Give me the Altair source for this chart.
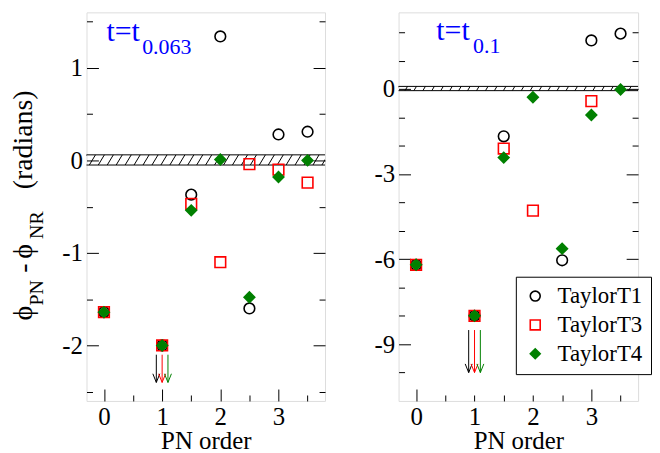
import altair as alt
import numpy as np
import pandas as pd

FONT = "Liberation Serif, Times New Roman, Times, DejaVu Serif, serif"

# ---------------- data ----------------
series = ["TaylorT1", "TaylorT3", "TaylorT4"]
stroke_colors = ["black", "red", "green"]
fill_colors = ["transparent", "transparent", "green"]
shapes = ["circle", "square", "diamond"]

pn_order = [0, 1, 1.5, 2, 2.5, 3, 3.5]

# left panel: t = t_0.063
left_T1 = [-1.64, -2.0, -0.37, 1.34, -1.60, 0.28, 0.31]
left_T3 = [-1.64, -2.0, -0.47, -1.10, -0.04, -0.10, -0.24]
left_T4 = [-1.64, -2.0, -0.54, 0.01, -1.48, -0.18, 0.00]

# right panel: t = t_0.1 (None = off scale)
right_T1 = [-6.2, -8.0, -1.67, None, -6.04, 1.71, 1.95]
right_T3 = [-6.2, -8.0, -2.10, -4.29, None, -0.43, None]
right_T4 = [-6.2, -8.0, -2.42, -0.29, -5.63, -0.92, -0.02]

left_band = [-0.05, 0.06]
right_band = [-0.06, 0.09]

arrow_x = [0.9, 1.0, 1.1]
left_arrow = [-2.1, -2.4]
right_arrow = [-8.5, -10.0]

x_domain = [-0.3, 3.8]
left_y_domain = [-2.6, 1.6]
right_y_domain = [-11.0, 2.7]
x_labels = [0, 1, 2, 3]
x_ticks = [0, 0.5, 1, 1.5, 2, 2.5, 3, 3.5]
left_y_labels = [-2, -1, 0, 1]
left_y_ticks = [-2.5, -2, -1.5, -1, -0.5, 0, 0.5, 1, 1.5]
right_y_labels = [-9, -6, -3, 0]
right_y_ticks = [-10, -9, -8, -7, -6, -5, -4, -3, -2, -1, 0, 1, 2]

left_label = ["t=t", "0.063"]
right_label = ["t=t", "0.1"]

ytitle_text = ["\u03d5", "PN", "-", "\u03d5", "NR", "(radians)"]
ytitle_px = [-55, -44, -55, -55, -44, -55]
ytitle_py = [310, 295, 262, 248, 228, 178]
ytitle_fs = [28, 20, 28, 28, 20, 28]

W_L, W_R, H = 240, 241, 391


def panel(T1, T3, T4, ydom, ylabels, yticks, major_test, band, arrow, label, width, legend, ytitle):
    xs = alt.Scale(domain=x_domain, nice=False, zero=False)
    ys = alt.Scale(domain=ydom, nice=False, zero=False)

    rows = []
    k = 0
    for s, vals in zip(series, [T1, T3, T4]):
        for o, v in zip(pn_order, vals):
            if v is not None:
                rows.append({"series": s, "order": o, "value": v, "idx": k})
                k += 1
    df = pd.DataFrame(rows)

    # hatch segments across the band
    lo, hi = band
    px_per_x = width / (x_domain[1] - x_domain[0])
    spacing = 9.0 / px_per_x
    slant = (hi - lo) / (ydom[1] - ydom[0]) * H * 0.6 / px_per_x
    x0 = np.arange(x_domain[0] - slant, x_domain[1], spacing)
    hatch = pd.DataFrame({"x": x0, "x2": x0 + slant, "y": lo, "y2": hi})
    edges = pd.DataFrame({"v": band})

    arr = pd.DataFrame({"x": arrow_x, "top": arrow[0], "tip": arrow[1], "series": series})

    tick_size = {"condition": {"test": major_test, "value": 12}, "value": 6}

    x_lab_axis = alt.Axis(orient="bottom", values=x_labels, ticks=False, domain=False, grid=False,
                          labelFont=FONT, labelFontSize=25, labelPadding=4, labelColor="black",
                          title="PN order", titleFont=FONT, titleFontSize=25, titleFontWeight="normal",
                          titleColor="black", titlePadding=-1)
    x_tick_axis = alt.Axis(orient="top", offset=-H, values=x_ticks, labels=False, domain=False,
                           grid=False, title=None, tickSize=tick_size, tickColor="black", tickWidth=1)
    y_lab_axis = alt.Axis(orient="left", values=ylabels, ticks=False, domain=False, grid=False,
                          labelFont=FONT, labelFontSize=25, labelPadding=4, labelColor="black",
                          labelExpr="datum.value + ''", title=None)
    y_tick_l = alt.Axis(orient="right", offset=-width, values=yticks, labels=False, domain=False,
                        grid=False, title=None, tickSize=tick_size, tickColor="black", tickWidth=1)
    y_tick_r = alt.Axis(orient="left", offset=-width, values=yticks, labels=False, domain=False,
                        grid=False, title=None, tickSize=tick_size, tickColor="black", tickWidth=1)

    hatch_layer = alt.Chart(hatch).mark_rule(color="black", strokeWidth=1, clip=True).encode(
        x=alt.X("x:Q", scale=xs, axis=x_lab_axis), x2="x2:Q",
        y=alt.Y("y:Q", scale=ys, axis=y_lab_axis), y2="y2:Q")
    edge_layer = alt.Chart(edges).mark_rule(color="black", strokeWidth=1).encode(
        y=alt.Y("v:Q", scale=ys, axis=y_tick_l))

    sc_color = alt.Scale(domain=series, range=stroke_colors)
    sc_fill = alt.Scale(domain=series, range=fill_colors)
    sc_shape = alt.Scale(domain=series, range=shapes)

    if legend:
        lg = alt.Legend(orient="none", legendX=118, legendY=266, title=None, labelFont=FONT,
                        labelFontSize=23, labelColor="black", strokeColor="black", fillColor="white",
                        padding=8, rowPadding=5, symbolStrokeWidth=1.6, labelOffset=11,
                        symbolSize=100, labelLimit=200)
    else:
        lg = None
    pts = alt.Chart(df).mark_point(strokeWidth=1.6, opacity=1, size=115).encode(
        x=alt.X("order:Q", scale=xs, axis=None),
        y=alt.Y("value:Q", scale=ys, axis=None),
        color=alt.Color("series:N", scale=sc_color, legend=lg),
        fill=alt.Fill("series:N", scale=sc_fill, legend=lg),
        shape=alt.Shape("series:N", scale=sc_shape, legend=lg),
        order=alt.Order("idx:Q"))

    arrow_layer = alt.Chart(arr).mark_rule(strokeWidth=1).encode(
        x=alt.X("x:Q", scale=xs, axis=x_tick_axis),
        y=alt.Y("top:Q", scale=ys, axis=y_tick_r), y2="tip:Q",
        color=alt.Color("series:N", scale=sc_color))
    head_layer = alt.Chart(arr).mark_point(shape="M-1,-2.5L0,0L1,-2.5", size=49, filled=False,
                                           strokeWidth=1, opacity=1).encode(
        x=alt.X("x:Q", scale=xs, axis=None),
        y=alt.Y("tip:Q", scale=ys, axis=None),
        color=alt.Color("series:N", scale=sc_color))

    if ytitle:
        lx, sx = 20, 56
        ly, sy = 29, 42
    else:
        lx, sx = 38, 75
        ly, sy = 28, 41
    t_main = alt.Chart(pd.DataFrame({"t": [label[0]]})).mark_text(
        font=FONT, fontSize=30, color="#0000ff", align="left", baseline="alphabetic").encode(
        text="t:N", x=alt.value(lx), y=alt.value(ly))
    t_sub = alt.Chart(pd.DataFrame({"t": [label[1]]})).mark_text(
        font=FONT, fontSize=22, color="#0000ff", align="left", baseline="alphabetic").encode(
        text="t:N", x=alt.value(sx), y=alt.value(sy))

    layers = [hatch_layer, edge_layer, arrow_layer, head_layer, pts, t_main, t_sub]
    if ytitle:
        tdf = pd.DataFrame({"t": ytitle_text, "px": ytitle_px, "py": ytitle_py, "fs": ytitle_fs})
        layers.append(alt.Chart(tdf).mark_text(font=FONT, angle=270, align="left",
                                               baseline="alphabetic", color="black").encode(
            text="t:N", x=alt.X("px:Q", scale=None, axis=None), y=alt.Y("py:Q", scale=None, axis=None),
            size=alt.Size("fs:Q", scale=None, legend=None)))
    return alt.layer(*layers).resolve_axis(x="independent", y="independent").properties(
        width=width, height=H)


left = panel(left_T1, left_T3, left_T4, left_y_domain, left_y_labels, left_y_ticks,
             "datum.value % 1 === 0", left_band, left_arrow, left_label, W_L, False, True)
right = panel(right_T1, right_T3, right_T4, right_y_domain, right_y_labels, right_y_ticks,
              "datum.value % 3 === 0", right_band, right_arrow, right_label, W_R, True, False)

chart = alt.hconcat(left, right, spacing=47).resolve_scale(
    x="independent", y="independent", color="independent", fill="independent",
    shape="independent").resolve_legend(
    color="independent", fill="independent", shape="independent").properties(
    padding={"left": 1, "top": 2, "right": 0, "bottom": 0}).configure_view(
    stroke="black", strokeWidth=1.3).configure_axis(grid=False).configure(background="white")

chart.save("out.html", embed_options={"renderer": "svg", "actions": False})
